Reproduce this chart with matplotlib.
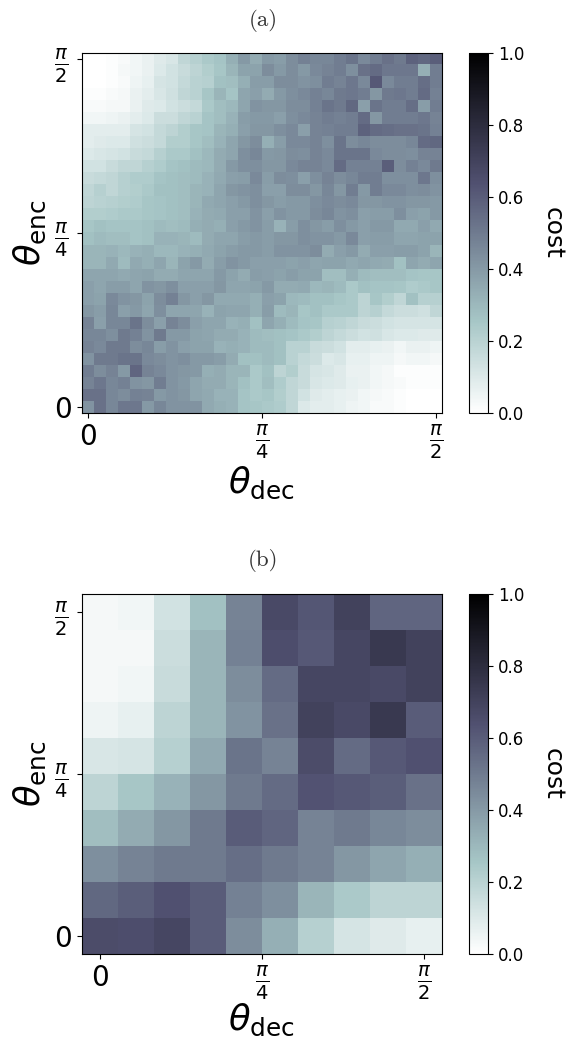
import numpy as np
import matplotlib
matplotlib.use("Agg")
import matplotlib.pyplot as plt

# cost in percent, rows from theta_enc = pi/2 down to 0
cost_a = [
    [0,0,1,2,4,6,9,11,18,21,24,26,33,40,34, 40,39,44,48,46,46,49,52,45,49,53,50,58,56,59],
    [0,0,1,3,4,6,10,13,16,19,22,25,31,37,37, 44,40,44,40,45,47,49,43,53,55,51,51,51,33,49],
    [0,0,1,2,5,7,12,13,17,20,21,27,28,33,39, 39,44,44,42,43,49,47,51,45,61,45,49,49,54,49],
    [1,1,2,3,6,8,11,14,18,20,25,31,26,36,38, 34,40,43,45,48,46,50,51,49,41,50,51,49,55,48],
    [2,2,3,3,6,9,10,13,15,17,24,28,30,36,42, 41,41,44,44,48,52,50,56,38,52,49,49,54,39,49],
    [4,4,5,6,8,10,15,15,18,20,26,28,32,39,40, 40,38,43,45,47,49,48,49,55,41,49,49,49,51,47],
    [8,8,8,8,12,13,17,19,22,25,26,31,33,38,41, 41,43,45,38,47,48,49,49,58,55,54,53,53,52,48],
    [8,9,10,10,14,15,17,22,22,25,28,32,36,41,44, 33,39,45,45,47,43,52,44,46,44,44,44,46,55,56],
    [10,11,12,13,16,17,21,24,24,27,30,34,36,43,46, 40,41,44,43,47,45,52,52,52,45,44,44,43,47,47],
    [13,13,16,18,18,21,23,26,27,29,30,34,40,43,43, 41,41,45,47,47,45,55,48,48,48,59,44,48,45,50],
    [16,17,18,21,23,23,26,27,28,29,32,35,38,39,45, 39,44,43,38,43,47,44,46,49,49,43,43,43,51,43],
    [18,21,18,21,22,24,27,27,28,31,32,36,41,42,43, 38,38,44,44,41,46,41,49,40,49,45,45,43,44,42],
    [19,20,21,22,23,25,26,27,28,31,35,36,38,40,43, 41,39,40,40,43,45,44,45,41,41,42,42,41,41,40],
    [22,22,23,24,24,25,26,27,28,32,34,35,38,38,42, 38,42,40,40,44,46,42,43,38,39,39,43,38,37,40],
    [25,27,26,26,26,27,29,28,29,33,34,33,38,40,42, 39,32,39,43,41,39,43,40,38,40,40,35,35,38,35],
    [27,29,28,28,26,27,32,32,31,29,34,36,36,39,40, 39,41,41,43,42,42,40,45,38,39,39,36,36,37,37],
    [31,31,32,30,32,33,30,30,32,33,35,37,39,40,40, 39,42,42,42,44,34,38,40,34,38,38,39,39,37,31],
    [31,31,35,29,35,33,36,31,37,40,34,39,42,40,38, 38,38,37,38,36,37,37,35,36,35,34,27,36,34,36],
    [36,36,36,35,36,37,34,34,36,36,36,40,37,34,39, 38,37,39,37,37,28,28,33,29,28,28,28,26,25,25],
    [38,36,39,39,36,42,41,43,38,38,38,41,36,36,37, 40,34,34,35,30,31,29,24,27,26,26,25,23,24,25],
    [38,37,45,42,41,37,44,48,41,38,41,35,35,35,33, 38,37,30,29,27,27,25,24,19,25,22,18,27,21,21],
    [41,39,46,38,40,36,43,36,36,36,32,37,36,36,33, 39,29,31,25,27,24,24,24,19,21,17,15,15,14,18],
    [47,38,46,46,52,44,38,47,44,38,36,36,32,33,27, 36,33,29,26,25,21,20,18,16,15,13,12,12,12,12],
    [46,46,43,50,48,42,50,40,40,37,36,34,34,32,29, 28,27,26,24,22,19,17,15,13,14,11,10,10,9,9],
    [47,45,50,50,44,46,39,42,38,37,37,32,33,32,29, 29,27,20,20,16,15,13,8,8,7,6,4,6,6,5],
    [42,50,50,52,52,45,44,42,43,40,40,39,34,27,27, 29,27,20,17,15,10,11,7,7,5,5,3,4,4,3],
    [49,44,47,40,57,47,45,42,41,40,33,34,31,31,24, 27,19,22,16,12,11,9,6,6,4,3,1,1,1,1],
    [47,51,46,48,42,41,49,42,40,36,34,34,31,27,24, 28,23,18,16,11,10,9,7,6,4,3,2,1,1,1],
    [53,53,46,44,48,47,40,42,41,36,35,32,32,26,24, 25,22,18,13,9,8,7,6,4,3,2,1,0,0,0],
    [42,53,46,51,51,40,46,42,42,42,35,33,32,26,25, 24,23,18,10,8,8,7,5,4,2,2,1,0,0,0],
]

cost_b = [
    [3,4,13,27,47,67,62,70,57,57],
    [3,3,15,31,48,65,61,68,74,70],
    [3,4,16,31,44,55,68,68,67,70],
    [5,7,19,31,42,53,70,67,74,60],
    [11,12,21,35,52,47,66,55,61,64],
    [19,25,32,41,50,55,63,61,59,53],
    [28,34,41,50,60,57,47,50,46,44],
    [43,47,50,50,54,50,47,41,36,33],
    [56,59,64,60,48,43,31,24,19,19],
    [66,65,68,60,44,33,21,12,9,7],
]

tick_labels = ["0", r"$\frac{\pi}{4}$", r"$\frac{\pi}{2}$"]
cbar_ticks = [0.0, 0.2, 0.4, 0.6, 0.8, 1.0]

W, H = 572, 1038


def draw_panel(fig, cost, title, top, label_y):
    cost = np.array(cost) / 100
    n = cost.shape[0]
    ax = fig.add_axes([82 / W, 1 - (top + 360) / H, 360 / W, 360 / H])
    im = ax.imshow(cost, cmap="bone_r", vmin=0, vmax=1, aspect="auto",
                   interpolation="nearest")
    ticks = [0, (n - 1) / 2, n - 1]
    ax.set_xticks(ticks)
    ax.set_xticklabels(tick_labels, fontsize=20)
    ax.set_yticks(ticks[::-1])
    ax.set_yticklabels(tick_labels, fontsize=20)
    # the fractions sit a bit further out than the 0
    for tick in ax.yaxis.get_major_ticks()[1:]:
        tick.set_pad(6.5)
    fig.text(261 / W, 1 - label_y / H, r"$\theta_{\mathrm{dec}}$", fontsize=25.5,
             ha="center", va="center")
    fig.text(30 / W, 1 - (top + 180) / H, r"$\theta_{\mathrm{enc}}$", fontsize=25.5,
             rotation=90, ha="center", va="center")
    fig.text(263 / W, 1 - (top - 33) / H, title, family="cmr10", fontsize=16.5,
             ha="center", va="center", color="#333333")

    cax = fig.add_axes([469 / W, 1 - (top + 360) / H, 19 / W, 360 / H])
    cb = fig.colorbar(im, cax=cax)
    cb.set_ticks(cbar_ticks)
    cb.ax.tick_params(labelsize=12)
    cb.set_label("cost", fontsize=18, rotation=270, labelpad=29)


fig = plt.figure(figsize=(W / 100, H / 100), dpi=100)
draw_panel(fig, cost_a, "(a)", 53, 483)
draw_panel(fig, cost_b, "(b)", 594, 1020)
fig.savefig("out.png", dpi=100)
